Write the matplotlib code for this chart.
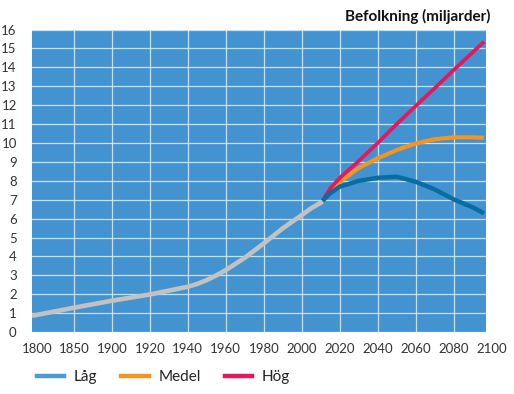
import numpy as np
import matplotlib
matplotlib.use("Agg")
import matplotlib.pyplot as plt
from matplotlib.lines import Line2D

plt.rcParams['font.family'] = ['Lato', 'DejaVu Sans']

# historisk befolkning (miljarder)
hist_years = [1795, 1800, 1850, 1900, 1920, 1940, 1945, 1950, 1955, 1960, 1970, 1980, 1990, 2000, 2005, 2011]
hist_pop = [0.86, 0.9, 1.29, 1.66, 1.99, 2.4, 2.55, 2.75, 3.0, 3.28, 3.93, 4.69, 5.49, 6.19, 6.55, 6.9]

# prognoser
proj_years = [2011, 2015, 2020, 2030, 2040, 2050, 2060, 2070, 2080, 2090, 2096]
low = [6.95, 7.35, 7.69, 8.0, 8.16, 8.22, 7.95, 7.55, 7.02, 6.6, 6.28]
medium = [6.95, 7.4, 7.95, 8.68, 9.19, 9.63, 9.98, 10.2, 10.3, 10.3, 10.28]
high = [6.95, 7.6, 8.15, 9.05, 10.0, 11.0, 11.96, 12.9, 13.86, 14.8, 15.36]

tick_years = [1800, 1850, 1900, 1920, 1940, 1960, 1980, 2000, 2020, 2040, 2060, 2080, 2100]
grid_years = [1850, 1900, 1920, 1940, 1960, 1980, 2000, 2020, 2040, 2060, 2080]
legend_labels = ['Låg', 'Medel', 'Hög']


# x-axeln: 50 år per ruta före 1900, 20 år per ruta efter
def fwd(y):
    y = np.asarray(y, dtype=float)
    return np.where(y < 1900, (y - 1900) / 50.0, (y - 1900) / 20.0)


def inv(u):
    u = np.asarray(u, dtype=float)
    return np.where(u < 0, 1900 + 50.0 * u, 1900 + 20.0 * u)


fig = plt.figure(figsize=(5.14, 3.94), dpi=100)
ax = fig.add_axes([0.0623, 0.157, 0.8832, 0.768])
ax.set_xscale('function', functions=(fwd, inv))
ax.set_facecolor('#4393d0')

kw = dict(solid_capstyle='butt', solid_joinstyle='round')
ax.plot(hist_years, hist_pop, color='#c2c2c2', lw=3.3, zorder=3, **kw)
ax.plot(proj_years, medium, color='#f7941d', lw=3.0, zorder=4, **kw)
ax.plot(proj_years, high, color='#e8175d', lw=2.7, zorder=5, **kw)
ax.plot(proj_years, low, color='#0a6da2', lw=3.2, zorder=6, **kw)

ax.set_xlim(1795, 2097)
ax.set_ylim(0, 16)
ax.set_xticks(grid_years)
ax.set_xticklabels([])
ax.set_yticks(range(0, 17))
ax.tick_params(axis='both', length=0, labelsize=9.5, labelcolor='#333333')
ax.tick_params(axis='y', pad=11)
ax.grid(True, color='#d6e8f7', lw=0.9, alpha=0.9)
ax.set_axisbelow(True)
for s in ax.spines.values():
    s.set_visible(False)

for yr in tick_years:
    ax.text(yr + (2 if yr == 1800 else 0), -0.055, str(yr), transform=ax.get_xaxis_transform(),
            ha='center', va='center', fontsize=9.5, color='#333333', clip_on=False)

fig.text(0.955, 0.957, 'Befolkning (miljarder)', ha='right', va='center',
         fontsize=11, fontweight='bold', color='#111111')

handles = [Line2D([], [], color=c, lw=3.2) for c in ['#4a9ad8', '#f7941d', '#e8175d']]
fig.legend(handles, legend_labels, loc='center left', bbox_to_anchor=(0.045, 0.043),
           ncol=3, frameon=False, fontsize=11, handlelength=1.8, handletextpad=0.6,
           columnspacing=1.6, labelcolor='#222222')

fig.savefig('out.png', dpi=100)
